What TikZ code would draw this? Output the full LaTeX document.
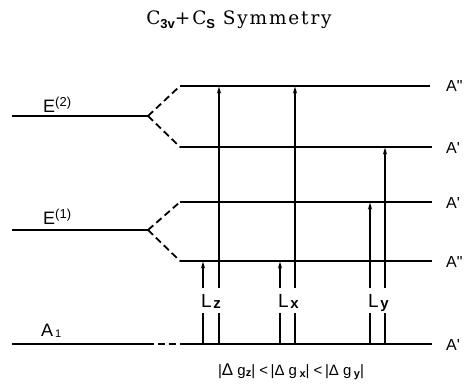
\documentclass[tikz,border=0pt]{standalone}
\usepackage{fontspec}
\newfontfamily\lab{Liberation Sans}
\newfontfamily\ttl[LetterSpace=10]{DejaVu Serif}
\usetikzlibrary{arrows.meta}
\begin{document}
\begin{tikzpicture}[x=1pt,y=-1pt,
  level/.style={line width=1.8pt},
  splitline/.style={line width=1.8pt, dash pattern=on 7pt off 4pt},
  trans/.style={line width=1.1pt,-{Stealth[length=7pt,width=4.2pt]},shorten >=0.6pt},
  seg/.style={line width=1.1pt},
  lbl/.style={font=\lab\fontsize{16}{16}\selectfont, inner sep=0pt},
  lname/.style={font=\lab\fontsize{18}{18}\selectfont, inner sep=0pt, anchor=base west},
]
\useasboundingbox (0,0) rectangle (466,383);
% title
\node[inner sep=0pt] (title) at (239,20) {\ttl\fontsize{18.5}{18.5}\selectfont C\raisebox{-0.35ex}{\lab\fontsize{13}{13}\selectfont\bfseries 3v}+C\raisebox{-0.35ex}{\lab\fontsize{13}{13}\selectfont\bfseries S}\ Symmetry};
% level endpoints
\coordinate (e2l) at (12,116);  \coordinate (e2r) at (148,116);
\coordinate (e1l) at (12,230);  \coordinate (e1r) at (148,230);
\coordinate (a1l) at (12,344);  \coordinate (a1r) at (147,344);
\coordinate (a1d) at (180,344); \coordinate (g0r) at (432,344);
\coordinate (u1l) at (180,86);  \coordinate (u1r) at (430,86);
\coordinate (u2l) at (180,147); \coordinate (u2r) at (432,147);
\coordinate (u3l) at (180,202); \coordinate (u3r) at (432,202);
\coordinate (u4l) at (180,261); \coordinate (u4r) at (432,261);
% levels
\draw[level] (e2l) -- (e2r);
\draw[level] (e1l) -- (e1r);
\draw[level] (a1l) -- (a1r);
\draw[splitline] (a1r) -- (a1d);
\draw[level] (a1d) -- (g0r);
\draw[level] (u1l) -- (u1r);
\draw[level] (u2l) -- (u2r);
\draw[level] (u3l) -- (u3r);
\draw[level] (u4l) -- (u4r);
\draw[splitline] (e2r) -- (u1l);
\draw[splitline] (e2r) -- (u2l);
\draw[splitline] (e1r) -- (u3l);
\draw[splitline] (e1r) -- (u4l);
% left labels
\node[lname] (le2) at (43,112) {E\raisebox{6pt}{\fontsize{13}{13}\selectfont(2)}};
\node[lname] (le1) at (43,224) {E\raisebox{6pt}{\fontsize{13}{13}\selectfont(1)}};
\node[lname] (la1) at (41,336) {A\kern2pt\raisebox{-1pt}{\fontsize{11}{11}\selectfont 1}};
% right labels
\node[lbl,anchor=west] (r1) at (446,86) {A"};
\node[lbl,anchor=west] (r2) at (446,148) {A\textquotesingle};
\node[lbl,anchor=west] (r3) at (446,203) {A\textquotesingle};
\node[lbl,anchor=west] (r4) at (446,262) {A"};
\node[lbl,anchor=west] (r5) at (446,345) {A\textquotesingle};
% transitions: bottom, gap-low, gap-high, tip
\foreach \n/\x/\t in {za/203/261, zb/219/86, xa/280/261, xb/295/86, ya/370/202, yb/385/147}{
  \coordinate (\n0) at (\x,344);
  \coordinate (\n1) at (\x,313);
  \coordinate (\n2) at (\x,288);
  \coordinate (\n3) at (\x,\t);
}
\foreach \n in {za,zb,xa,xb,ya,yb}{
  \draw[seg] (\n0) -- (\n1);
  \draw[trans] (\n2) -- (\n3);
}
% transition labels
\node[lname,font=\lab\fontsize{19}{19}\selectfont] (lz) at (201,307) {L\kern1.5pt\raisebox{-1.5pt}{\fontsize{15}{15}\selectfont\bfseries z}};
\node[lname,font=\lab\fontsize{19}{19}\selectfont] (lx) at (278,307) {L\kern1.5pt\raisebox{-1.5pt}{\fontsize{15}{15}\selectfont\bfseries x}};
\node[lname,font=\lab\fontsize{19}{19}\selectfont] (ly) at (368,307) {L\kern1.5pt\raisebox{-1.5pt}{\fontsize{15}{15}\selectfont\bfseries y}};
% relation
\node[inner sep=0pt,font=\lab\fontsize{15}{15}\selectfont] (rel) at (291,372)
  {|\fontsize{17}{17}\selectfont Δ\fontsize{15}{15}\selectfont\ g\raisebox{-1pt}{\fontsize{11}{11}\selectfont\bfseries z}| <\,|Δ g\,\raisebox{-2pt}{\fontsize{11}{11}\selectfont\bfseries x}| <\,|Δ g\,\raisebox{-2pt}{\fontsize{11}{11}\selectfont\bfseries y}|};
\end{tikzpicture}
\end{document}
